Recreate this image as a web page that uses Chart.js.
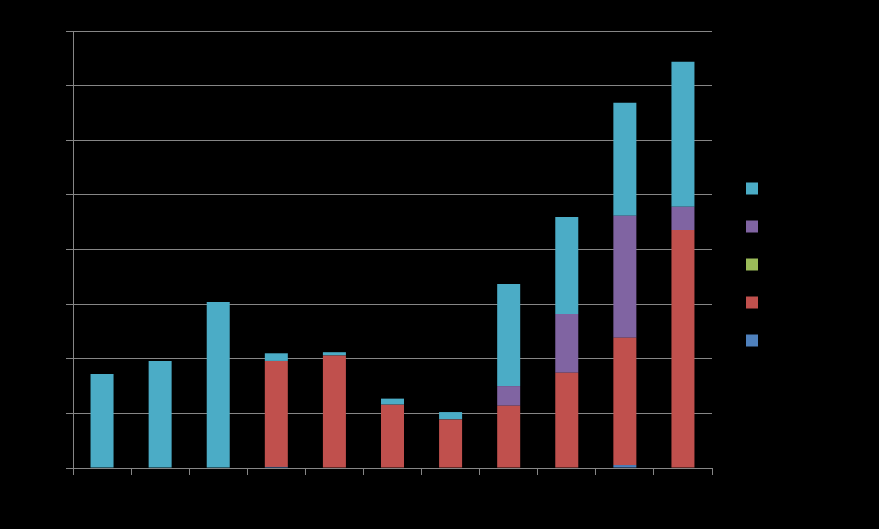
<!DOCTYPE html>
<html>
<head>
<meta charset="utf-8">
<script src="https://cdn.jsdelivr.net/npm/chart.js@4/dist/chart.umd.min.js"></script>
<style>
  html, body { margin: 0; padding: 0; background: #000; }
  canvas { display: block; background: #000; }
</style>
</head>
<body>
<canvas id="c" width="879" height="529"></canvas>
<script>
const categories = ['Cat 1','Cat 2','Cat 3','Cat 4','Cat 5','Cat 6','Cat 7','Cat 8','Cat 9','Cat 10','Cat 11'];
const series1 = [0, 0, 0, 0.1, 0, 0, 0, 0, 0, 0.27, 0];            // blue (bottom)
const series2 = [0, 0, 0, 9.7, 10.3, 5.8, 4.45, 5.7, 8.72, 11.66, 21.78]; // red
const series3 = [0, 0, 0, 0, 0, 0, 0, 0, 0, 0, 0];                 // green
const series4 = [0, 0, 0, 0, 0, 0, 0, 1.8, 5.37, 11.17, 2.13];     // purple
const series5 = [8.6, 9.8, 15.2, 0.7, 0.3, 0.55, 0.67, 9.34, 8.88, 10.34, 13.27]; // cyan (top)
const seriesNames = ['Series 1','Series 2','Series 3','Series 4','Series 5'];
const yTicksMax = 40;
const yTickStep = 5;

const gridColor = '#868686';
const colors = ['#4F81BD', '#C0504D', '#9BBB59', '#8064A2', '#4BACC6'];
const allSeries = [series1, series2, series3, series4, series5];

const legendPad = 26;
const legendFix = {
  id: 'legendFix',
  afterInit(chart) {
    const lg = chart.legend;
    const f = lg.fit;
    lg.fit = function() { f.call(this); this.width = 167; };
  },
  afterLayout(chart) {
    const lg = chart.legend;
    const dx = 746 - legendPad - lg.left;
    lg.left += dx; lg.right += dx;
    lg.top = 0; lg.bottom = 529; lg.height = 529;
  }
};

new Chart(document.getElementById('c'), {
  type: 'bar',
  data: {
    labels: categories,
    datasets: allSeries.map((d, i) => ({
      label: seriesNames[i],
      data: d,
      backgroundColor: colors[i],
      borderWidth: 0,
      barPercentage: 0.396,
      categoryPercentage: 1.0
    }))
  },
  options: {
    responsive: false,
    animation: false,
    layout: { padding: { top: 31, left: 0, right: 0, bottom: 0 } },
    plugins: {
      legend: {
        position: 'right',
        reverse: true,
        labels: {
          boxWidth: 12,
          boxHeight: 12,
          padding: legendPad,
          color: '#000',
          font: { family: 'Liberation Sans', size: 12 }
        }
      },
      tooltip: { enabled: false }
    },
    scales: {
      x: {
        stacked: true,
        grid: { display: true, drawOnChartArea: false, drawTicks: true, tickLength: 7, color: gridColor, offset: true },
        border: { display: true, color: gridColor },
        ticks: { color: '#000', font: { family: 'Liberation Sans', size: 12 } },
        afterFit(s) { s.height = 61; }
      },
      y: {
        stacked: true,
        min: 0,
        max: yTicksMax,
        ticks: { stepSize: yTickStep, color: '#000', font: { family: 'Liberation Sans', size: 12 } },
        grid: { color: gridColor, drawTicks: true, tickLength: 7 },
        border: { display: true, color: gridColor },
        afterFit(s) { s.width = 73; }
      }
    }
  },
  plugins: [legendFix]
});
</script>
</body>
</html>
